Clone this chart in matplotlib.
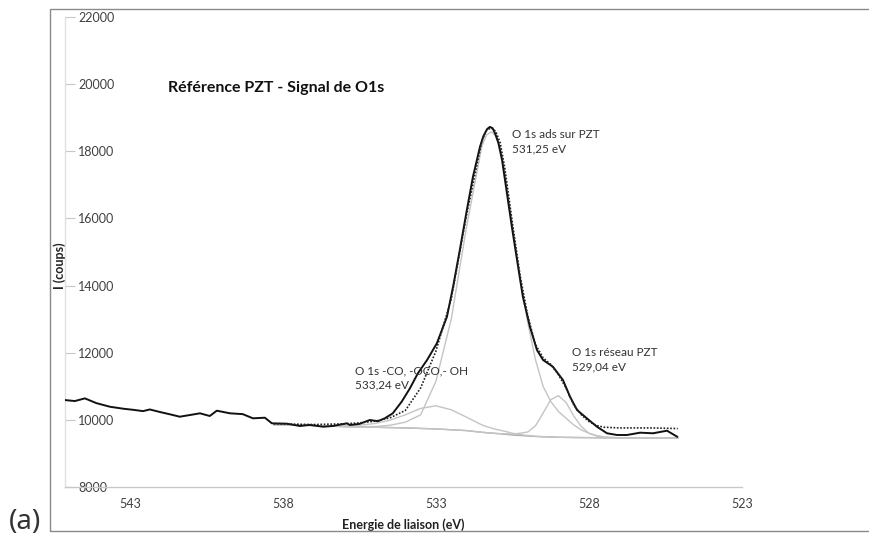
import matplotlib
matplotlib.use("Agg")
import matplotlib.pyplot as plt
from matplotlib.patches import Rectangle

# ---------------- data ----------------
energy_exp = [545.12, 544.80, 544.47, 544.10, 543.65, 543.20, 542.90, 542.57, 542.35,
              542.00, 541.69, 541.37, 541.00, 540.71, 540.39, 540.16, 539.73, 539.31,
              538.98, 538.59, 538.36, 537.87, 537.44, 537.12, 536.69, 536.37, 535.91,
              535.81, 535.50, 535.16, 534.90, 534.67, 534.41, 534.12, 533.85, 533.59,
              533.29, 532.97, 532.64, 532.44, 532.22, 531.99, 531.79, 531.56, 531.45,
              531.33, 531.24, 531.15, 531.07, 530.96, 530.84, 530.68, 530.52, 530.35,
              530.16, 529.93, 529.70, 529.50, 529.18, 528.85, 528.62, 528.39, 528.07,
              527.74, 527.41, 527.08, 526.76, 526.33, 525.91, 525.45, 525.12]
intensity_exp = [10590, 10560, 10640, 10500, 10390, 10330, 10300, 10260, 10310,
                 10230, 10165, 10094, 10150, 10195, 10115, 10273, 10195, 10170,
                 10046, 10064, 9897, 9886, 9817, 9850, 9796, 9817, 9897,
                 9847, 9880, 9996, 9960, 10046, 10195, 10541, 10940, 11387,
                 11783, 12280, 13073, 13967, 15060, 16252, 17244, 18138, 18450,
                 18660, 18725, 18690, 18537, 18250, 17742, 16749, 15754, 14762,
                 13669, 12775, 12081, 11783, 11584, 11187, 10690, 10294, 10046,
                 9796, 9600, 9549, 9549, 9618, 9600, 9677, 9499]

energy_fit = [538.3, 537.5, 537.0, 536.5, 536.0, 535.5, 535.0, 534.5, 534.0, 533.5,
              533.0, 532.5, 532.0, 531.5, 531.35, 531.2, 531.05, 530.9, 530.75, 530.5,
              530.25, 530.0, 529.75, 529.5, 529.25, 529.0, 528.75, 528.5, 528.25, 528.0,
              527.75, 527.5, 527.0, 526.5, 526.0, 525.5, 525.1]
intensity_envelope = [9880, 9870, 9860, 9870, 9880, 9910, 9960, 10060, 10280, 10950,
                      12050, 13600, 16100, 18300, 18620, 18700, 18600, 18250, 17500, 15850,
                      14300, 13100, 12250, 11850, 11650, 11350, 10950, 10450, 10150, 9950,
                      9830, 9780, 9760, 9760, 9760, 9750, 9740]
intensity_background = [9860, 9845, 9830, 9815, 9800, 9790, 9780, 9770, 9760, 9745,
                        9730, 9705, 9680, 9630, 9618, 9605, 9595, 9585, 9570, 9550,
                        9535, 9520, 9505, 9495, 9490, 9480, 9478, 9475, 9472, 9470,
                        9468, 9466, 9465, 9465, 9465, 9465, 9465]
comp_533 = [9860, 9845, 9830, 9820, 9820, 9840, 9890, 9990, 10150, 10340,
            10420, 10300, 10080, 9850, 9800, 9760, 9720, 9690, 9660, 9600,
            9560, 9535, 9512, 9500, 9492, 9482, 9478, 9475, 9472, 9470,
            9468, 9466, 9465, 9465, 9465, 9465, 9465]
comp_531 = [9860, 9845, 9830, 9815, 9800, 9795, 9800, 9840, 9930, 10150,
            11150, 13000, 15750, 18150, 18480, 18580, 18480, 18120, 17400, 15800,
            14200, 12900, 11800, 11000, 10550, 10250, 10050, 9850, 9700, 9600,
            9530, 9490, 9466, 9465, 9465, 9465, 9465]
comp_529 = [9860, 9845, 9830, 9815, 9800, 9790, 9780, 9770, 9760, 9745,
            9730, 9705, 9680, 9630, 9618, 9605, 9597, 9590, 9585, 9580,
            9600, 9640, 9820, 10200, 10600, 10720, 10520, 10120, 9800, 9600,
            9520, 9480, 9466, 9465, 9465, 9465, 9465]

y_ticks = [8000, 10000, 12000, 14000, 16000, 18000, 20000, 22000]
x_ticks = [543, 538, 533, 528, 523]

title = "Référence PZT - Signal de O1s"
label_ads = "O 1s ads sur PZT\n531,25 eV"
label_co = "O 1s -CO, -OCO,- OH\n533,24 eV"
label_res = "O 1s réseau PZT\n529,04 eV"

# ---------------- figure ----------------
plt.rcParams['font.family'] = ['Lato', 'DejaVu Sans']
W, H = 869, 539
fig = plt.figure(figsize=(W / 100, H / 100), dpi=100)
fig.patch.set_facecolor('white')

L, R, T, B = 65, 742, 17, 487
ax = fig.add_axes([L / W, 1 - B / H, (R - L) / W, (B - T) / H])

grey_comp = '#c4c4c4'
ax.plot(energy_fit, intensity_background, color='#a8a8a8', lw=1.0, zorder=2)
ax.plot(energy_fit, comp_533, color=grey_comp, lw=1.0, zorder=2)
ax.plot(energy_fit, comp_531, color=grey_comp, lw=1.0, zorder=2)
ax.plot(energy_fit, comp_529, color=grey_comp, lw=1.0, zorder=2)
ax.plot(energy_exp, intensity_exp, color='#111111', lw=1.4, zorder=3)
ax.plot(energy_fit, intensity_envelope, color='#222222', lw=1.2, ls=(0, (1, 1)), zorder=4)

ax.set_xlim(545.12, 523)
ax.set_ylim(8000, 22000)
ax.set_xticks(x_ticks)
ax.set_xticklabels([str(v) for v in x_ticks])
ax.set_yticks(y_ticks)
ax.set_yticklabels([str(v) for v in y_ticks])

for s in ['top', 'right']:
    ax.spines[s].set_visible(False)
ax.spines['bottom'].set_color('#c8c8c8')
ax.spines['left'].set_color('#e0e0e0')
ax.spines['bottom'].set_linewidth(1.0)
ax.spines['left'].set_linewidth(1.0)

ax.tick_params(axis='x', length=0, pad=8, labelsize=9, labelcolor='#404040')
ax.tick_params(axis='y', direction='in', length=7, color='#c8c8c8',
               pad=-9.5, labelsize=9, labelcolor='#404040')
for lab in ax.get_yticklabels():
    lab.set_horizontalalignment('left')

ax.set_xlabel("Energie de liaison (eV)", fontsize=9, fontweight='bold',
              color='#222222', labelpad=6)
ax.set_ylabel("I (coups)", fontsize=9, fontweight='bold', color='#222222')
ax.yaxis.label.set_verticalalignment('center')
ax.yaxis.set_label_coords((60 - L) / (R - L), (B - 266) / (B - T))

ax.text((168 - L) / (R - L), (B - 88) / (B - T), title, transform=ax.transAxes,
        fontsize=11.5, fontweight='bold', color='#111111', ha='left', va='center')

def px(xp, yp):
    return ((xp - L) / (R - L), (B - yp) / (B - T))

for txt, (xp, yp) in [(label_ads, (512, 142)), (label_co, (355, 378)),
                      (label_res, (572, 360))]:
    ax.text(*px(xp, yp), txt, transform=ax.transAxes, fontsize=8.5,
            color='#333333', ha='left', va='center', linespacing=1.35)

# outer frame of the chart area
fig.add_artist(Rectangle((50 / W, 1 - 531 / H), 1.0, (531 - 9) / H,
                         transform=fig.transFigure, fill=False,
                         edgecolor='#8a8a8a', lw=1.0, clip_on=True))

fig.text(9 / W, 1 - 522 / H, "(a)", fontsize=20, color='#333333',
         ha='left', va='center', family=['Noto Sans', 'DejaVu Sans'])

fig.savefig("out.png", dpi=100, facecolor='white')
